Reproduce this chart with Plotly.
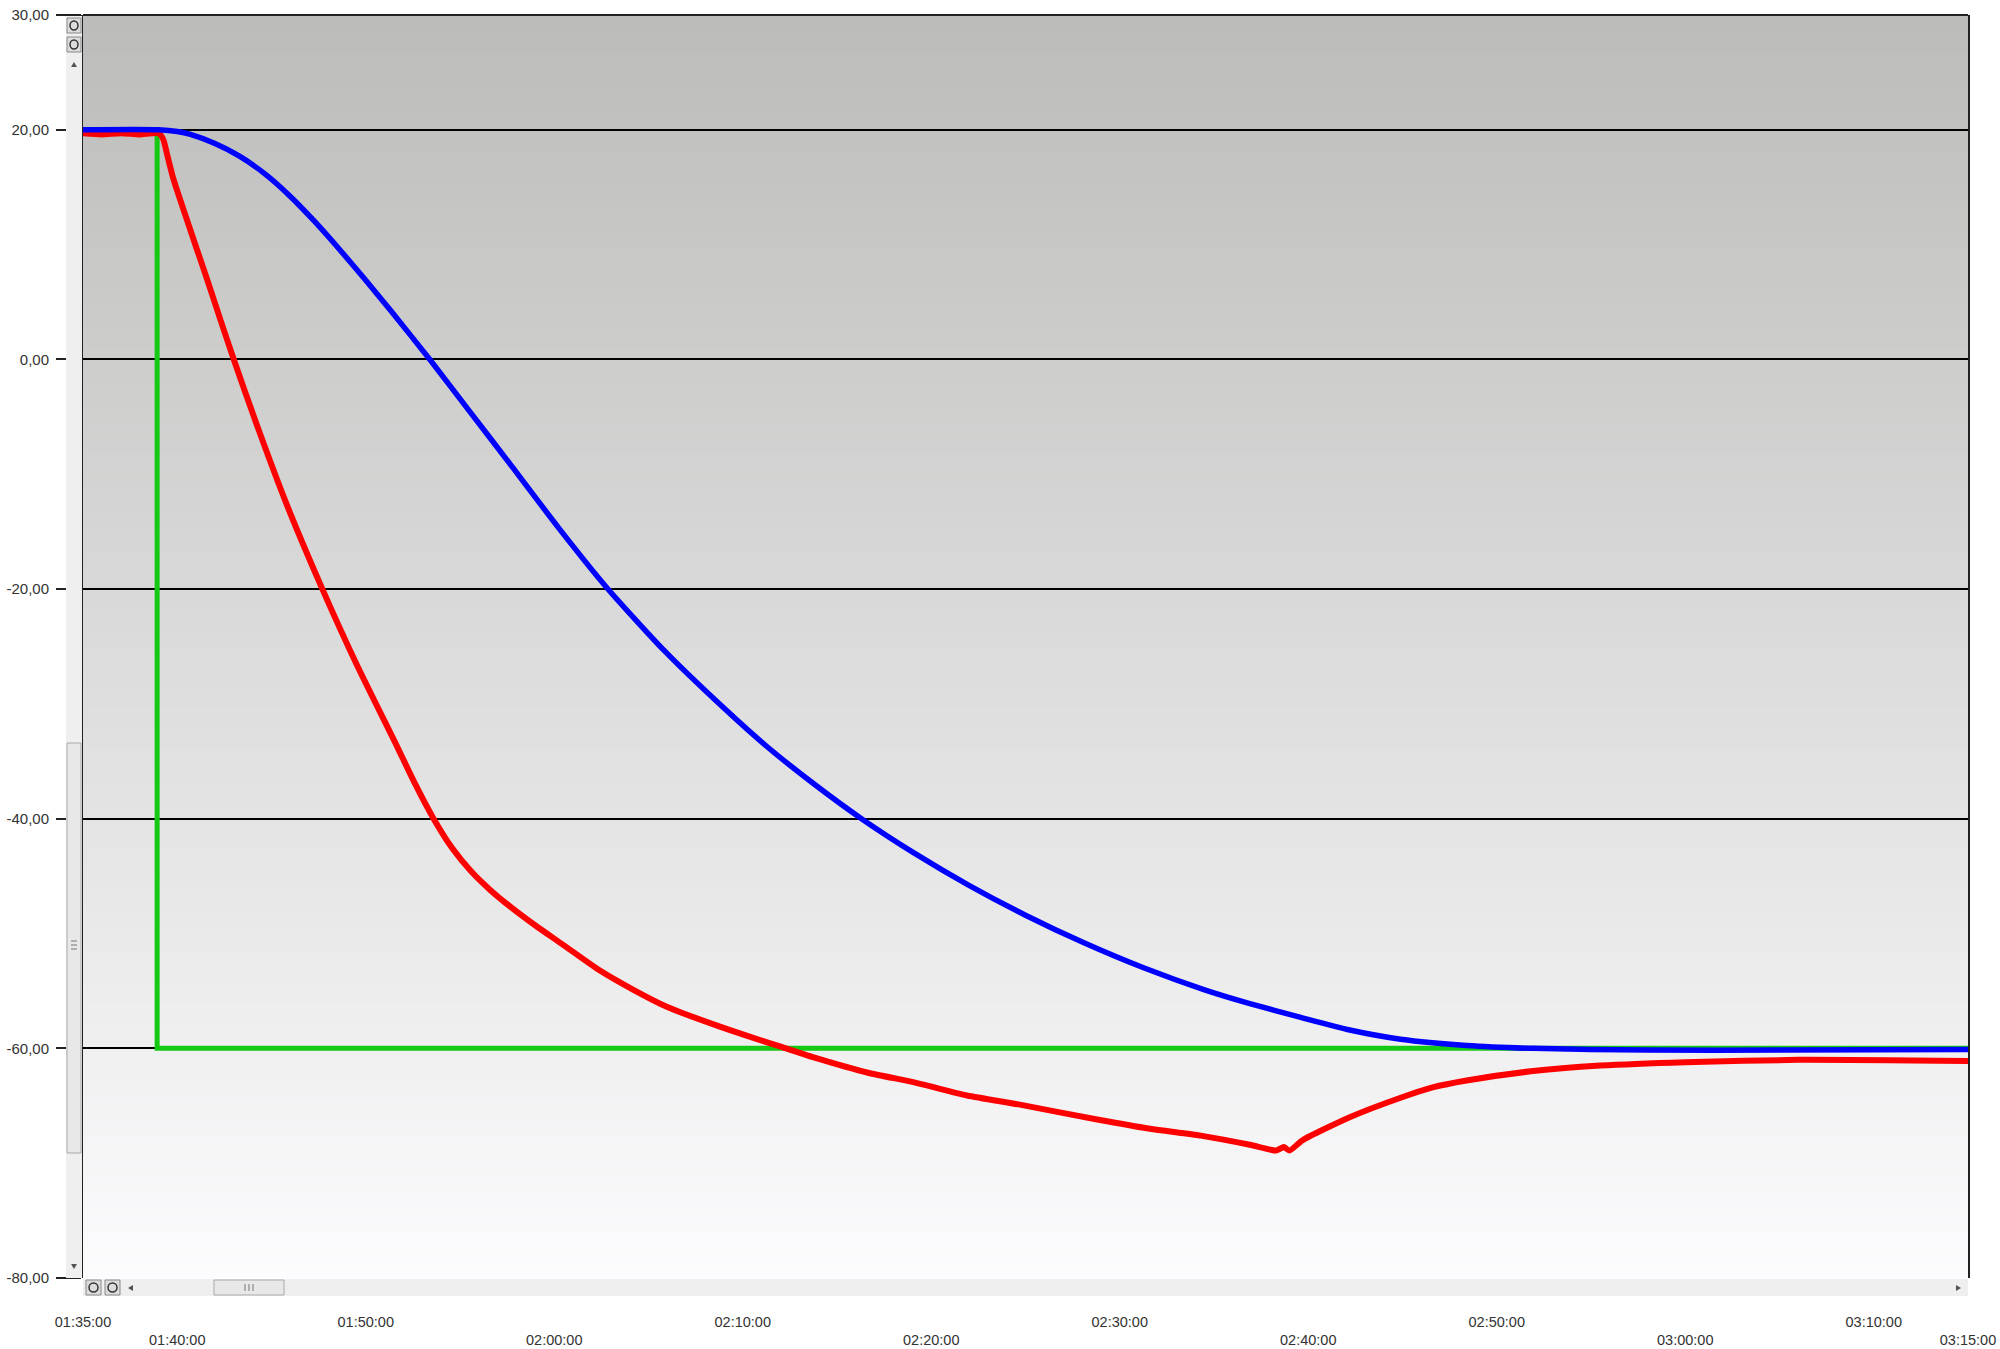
import zlib, struct, base64
import plotly.graph_objects as go

DAY = "2024-01-01 "

# ---------------- data ----------------
blue_time = ["01:35:00", "01:39:00", "01:40:00", "01:40:42", "01:42:00", "01:43:18", "01:44:42",
             "01:46:00", "01:47:18", "01:48:36", "01:50:00", "01:51:18", "01:53:24", "01:55:30",
             "01:57:42", "02:00:12", "02:02:48", "02:05:48", "02:08:30", "02:11:12", "02:13:48",
             "02:16:18", "02:19:06", "02:22:00", "02:25:00", "02:28:06", "02:31:18", "02:34:30",
             "02:36:54", "02:39:36", "02:42:12", "02:44:54", "02:48:24", "02:51:54", "02:58:00",
             "03:05:00", "03:15:00"]
blue_value = [20.0, 20.0, 19.85, 19.6, 18.8, 17.7, 16.1,
              14.2, 12.0, 9.6, 6.9, 4.3, 0.0, -4.5,
              -9.2, -14.6, -19.9, -25.3, -29.6, -33.6, -37.0,
              -40.0, -43.0, -45.8, -48.4, -50.8, -53.0, -54.9,
              -56.1, -57.3, -58.4, -59.2, -59.75, -60.0, -60.15,
              -60.15, -60.1]

red_time = ["01:35:00", "01:36:00", "01:37:00", "01:38:00", "01:39:00", "01:39:15", "01:39:30",
            "01:39:48", "01:40:18", "01:41:00", "01:41:36", "01:42:18", "01:43:00", "01:44:12",
            "01:45:48", "01:47:42", "01:49:30", "01:51:36", "01:52:36", "01:53:36", "01:54:36",
            "01:55:36", "01:56:36", "01:57:42", "01:59:00", "02:00:24", "02:02:24", "02:04:12",
            "02:06:00", "02:08:36", "02:10:24", "02:12:06", "02:13:54", "02:16:36", "02:19:12",
            "02:21:54", "02:24:42", "02:28:48", "02:31:36", "02:34:18", "02:36:54", "02:38:18",
            "02:38:42", "02:39:00", "02:39:42", "02:42:12", "02:44:54", "02:46:36", "02:48:24",
            "02:51:48", "02:55:30", "03:00:00", "03:06:00", "03:15:00"]
red_value = [19.7, 19.6, 19.7, 19.6, 19.7, 19.2, 17.6,
             15.7, 13.2, 9.8, 6.9, 3.4, 0.0, -5.6,
             -12.6, -20.0, -26.5, -33.5, -36.9, -40.0, -42.6,
             -44.6, -46.2, -47.7, -49.3, -50.9, -53.2, -54.9,
             -56.4, -58.0, -59.0, -59.9, -60.85, -62.1, -63.0,
             -64.1, -64.9, -66.2, -67.0, -67.6, -68.4, -68.9,
             -68.6, -68.9, -68.0, -66.0, -64.3, -63.4, -62.8,
             -62.0, -61.5, -61.2, -61.0, -61.1]

green_time = ["01:35:00", "01:38:56", "01:38:56", "03:15:00"]
green_value = [20.0, 20.0, -60.0, -60.0]

y_tick_values = [30, 20, 0, -20, -40, -60, -80]
y_tick_labels = ["30,00", "20,00", "0,00", "-20,00", "-40,00", "-60,00", "-80,00"]

x_tick_times = ["01:35:00", "01:40:00", "01:50:00", "02:00:00", "02:10:00", "02:20:00",
                "02:30:00", "02:40:00", "02:50:00", "03:00:00", "03:10:00", "03:15:00"]
x_range = ["01:35:00", "03:15:00"]
y_range = [-80, 30]

# ---------------- layout geometry (pixels) ----------------
W, H = 2000, 1349
L, R, T, B = 83, 1968, 15, 1278


def px_x(px):
    return (px - L) / (R - L)


def px_y(py):
    return (B - py) / (B - T)


def gradient_png(top, bottom, n=256):
    rows = []
    for i in range(n):
        f = i / (n - 1)
        c = tuple(int(round(top[k] + (bottom[k] - top[k]) * f)) for k in range(3))
        rows.append(b"\x00" + bytes(c) * 2)
    raw = b"".join(rows)

    def chunk(t, d):
        c = struct.pack(">I", len(d)) + t + d
        return c + struct.pack(">I", zlib.crc32(t + d) & 0xFFFFFFFF)

    ihdr = struct.pack(">IIBBBBB", 2, n, 8, 2, 0, 0, 0)
    png = (b"\x89PNG\r\n\x1a\n" + chunk(b"IHDR", ihdr) +
           chunk(b"IDAT", zlib.compress(raw)) + chunk(b"IEND", b""))
    return "data:image/png;base64," + base64.b64encode(png).decode()


FONT = "Liberation Sans, Arial, sans-serif"
TXT = "#333333"

fig = go.Figure()
fig.add_trace(go.Scatter(x=[DAY + t for t in green_time], y=green_value, mode="lines",
                         line=dict(color="#14c814", width=5), hoverinfo="skip", showlegend=False))
fig.add_trace(go.Scatter(x=[DAY + t for t in red_time], y=red_value, mode="lines",
                         line=dict(color="#ff0000", width=6, shape="spline", smoothing=0.6),
                         hoverinfo="skip", showlegend=False))
fig.add_trace(go.Scatter(x=[DAY + t for t in blue_time], y=blue_value, mode="lines",
                         line=dict(color="#0000ff", width=5.5, shape="spline", smoothing=0.6),
                         hoverinfo="skip", showlegend=False))

x_ticktext = [t if i % 2 == 0 else "<br>" + t for i, t in enumerate(x_tick_times)]

shapes = []
# top border
shapes.append(dict(type="line", xref="paper", yref="paper", x0=0, x1=1, y0=1, y1=1,
                   line=dict(color="#222222", width=2), layer="above"))
# vertical scrollbar strip
shapes.append(dict(type="rect", xref="paper", yref="paper", x0=px_x(66), x1=px_x(82),
                   y0=px_y(1278), y1=px_y(16), fillcolor="#efefef", line=dict(width=0), layer="above"))
shapes.append(dict(type="rect", xref="paper", yref="paper", x0=px_x(67), x1=px_x(81),
                   y0=px_y(1153), y1=px_y(743), fillcolor="#e8e8e8",
                   line=dict(color="#a9a9a9", width=1), layer="above"))
for gy in (941, 945, 949):
    shapes.append(dict(type="line", xref="paper", yref="paper", x0=px_x(71), x1=px_x(77),
                       y0=px_y(gy), y1=px_y(gy), line=dict(color="#777777", width=1), layer="above"))
for (a, b) in ((18, 33), (37, 52)):
    shapes.append(dict(type="rect", xref="paper", yref="paper", x0=px_x(67), x1=px_x(81),
                       y0=px_y(b), y1=px_y(a), fillcolor="#dcdcdc",
                       line=dict(color="#8a8a8a", width=1), layer="above"))
    shapes.append(dict(type="circle", xref="paper", yref="paper", x0=px_x(70), x1=px_x(78),
                       y0=px_y(b - 3), y1=px_y(a + 3), line=dict(color="#333333", width=1.5), layer="above"))
# horizontal scrollbar strip
shapes.append(dict(type="rect", xref="paper", yref="paper", x0=px_x(83), x1=px_x(1968),
                   y0=px_y(1296), y1=px_y(1279), fillcolor="#efefef", line=dict(width=0), layer="above"))
shapes.append(dict(type="rect", xref="paper", yref="paper", x0=px_x(214), x1=px_x(284),
                   y0=px_y(1295), y1=px_y(1280), fillcolor="#e8e8e8",
                   line=dict(color="#a9a9a9", width=1), layer="above"))
for gx in (245, 249, 253):
    shapes.append(dict(type="line", xref="paper", yref="paper", x0=px_x(gx), x1=px_x(gx),
                       y0=px_y(1291), y1=px_y(1284), line=dict(color="#777777", width=1), layer="above"))
for (a, b) in ((86, 101), (105, 120)):
    shapes.append(dict(type="rect", xref="paper", yref="paper", x0=px_x(a), x1=px_x(b),
                       y0=px_y(1295), y1=px_y(1280), fillcolor="#dcdcdc",
                       line=dict(color="#8a8a8a", width=1), layer="above"))
    shapes.append(dict(type="circle", xref="paper", yref="paper", x0=px_x(a + 3), x1=px_x(b - 3),
                       y0=px_y(1292), y1=px_y(1283), line=dict(color="#333333", width=1.5), layer="above"))


def tri(pts):
    return "M " + " L ".join(f"{px_x(x)},{px_y(y)}" for x, y in pts) + " Z"


for pts in (((71, 67), (77, 67), (74, 62)),
            ((71, 1264), (77, 1264), (74, 1269)),
            ((133, 1285), (133, 1291), (128, 1288)),
            ((1956, 1285), (1956, 1291), (1961, 1288))):
    shapes.append(dict(type="path", xref="paper", yref="paper", path=tri(pts),
                       fillcolor="#555555", line=dict(width=0), layer="above"))

fig.update_layout(
    width=W, height=H,
    margin=dict(l=L, r=W - R, t=T, b=H - B, pad=0, autoexpand=False),
    paper_bgcolor="white",
    plot_bgcolor="rgba(0,0,0,0)",
    font=dict(family=FONT, size=15, color=TXT),
    images=[dict(source=gradient_png((188, 188, 186), (252, 251, 253)), xref="paper", yref="paper",
                 x=0, y=1, sizex=1, sizey=1, xanchor="left", yanchor="top",
                 sizing="stretch", layer="below")],
    shapes=shapes,
    xaxis=dict(type="date", range=[DAY + t for t in x_range], tickmode="array",
               tickvals=[DAY + t for t in x_tick_times], ticktext=x_ticktext,
               showgrid=False, zeroline=False, showline=False, ticks="", automargin=False,
               ticklabelstandoff=33, tickfont=dict(family=FONT, size=14.5, color=TXT)),
    yaxis=dict(range=y_range, tickmode="array", tickvals=y_tick_values, ticktext=y_tick_labels,
               showgrid=True, gridcolor="#000000", gridwidth=1.5, zeroline=False, automargin=False,
               showline=True, linecolor="#222222", linewidth=2, mirror=True,
               ticks="outside", ticklen=25, tickwidth=1.5, tickcolor="#222222",
               ticklabelstandoff=4, tickfont=dict(family=FONT, size=15, color=TXT)),
)

fig.write_html("out.html", config={"displayModeBar": False},
               post_script="document.body.style.margin='0';document.body.style.overflow='hidden';")
